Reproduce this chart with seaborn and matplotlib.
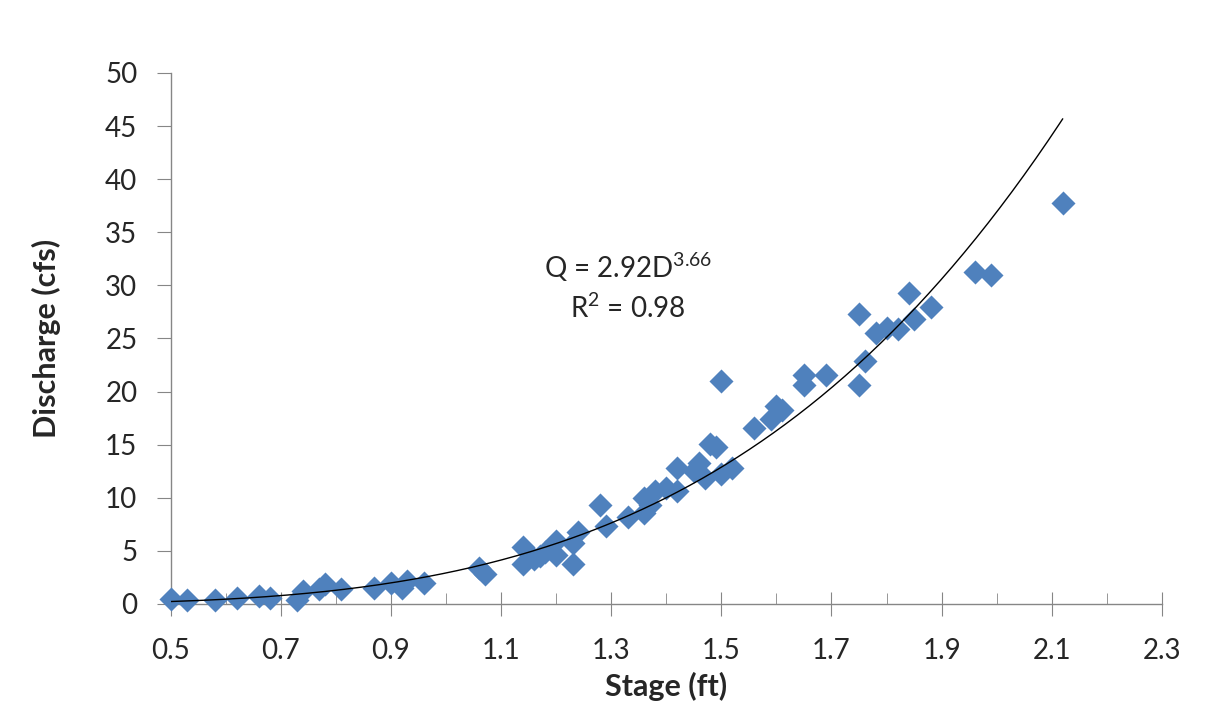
import numpy as np
import pandas as pd
import matplotlib
matplotlib.use('Agg')
import matplotlib.pyplot as plt
import seaborn as sns

stage = [0.50, 0.53, 0.58, 0.62, 0.66, 0.68, 0.73, 0.74, 0.77, 0.78,
         0.81, 0.87, 0.90, 0.92, 0.93, 0.96, 1.06, 1.07, 1.14, 1.14,
         1.16, 1.17, 1.18, 1.20, 1.20, 1.23, 1.23, 1.24, 1.28, 1.29,
         1.33, 1.36, 1.36, 1.37, 1.38, 1.40, 1.42, 1.42, 1.45, 1.46,
         1.47, 1.48, 1.49, 1.50, 1.50, 1.52, 1.56, 1.59, 1.60, 1.61,
         1.65, 1.65, 1.69, 1.75, 1.75, 1.76, 1.78, 1.80, 1.82, 1.84,
         1.85, 1.88, 1.96, 1.99, 2.12]
discharge = [0.5, 0.4, 0.4, 0.6, 0.75, 0.6, 0.4, 1.2, 1.4, 1.9,
             1.4, 1.5, 1.95, 1.5, 2.2, 1.95, 3.4, 2.8, 5.4, 3.8,
             4.2, 4.5, 4.9, 5.9, 4.6, 3.8, 5.7, 6.8, 9.3, 7.3,
             8.2, 8.6, 10.0, 9.3, 10.6, 10.9, 10.6, 12.8, 12.5, 13.3,
             11.9, 15.1, 14.8, 12.2, 21.0, 12.8, 16.6, 17.4, 18.6, 18.3,
             20.6, 21.6, 21.6, 27.3, 20.6, 22.9, 25.5, 26.0, 25.9, 29.3,
             26.8, 28.0, 31.3, 31.0, 37.8]

# axis ticks
x_major = [0.5, 0.7, 0.9, 1.1, 1.3, 1.5, 1.7, 1.9, 2.1, 2.3]
x_minor = [0.6, 0.8, 1.0, 1.2, 1.4, 1.6, 1.8, 2.0, 2.2]
y_major = [0, 5, 10, 15, 20, 25, 30, 35, 40, 45, 50]

# power trendline shown on the chart
coef_a = 2.92
coef_b = 3.66
r_squared = 0.98

df = pd.DataFrame({'Stage': stage, 'Discharge': discharge})

sns.set_style('white')
plt.rcParams['font.family'] = ['Lato', 'DejaVu Sans']
plt.rcParams['mathtext.fontset'] = 'custom'
plt.rcParams['mathtext.rm'] = 'Lato'

fig = plt.figure(figsize=(12.23, 7.05), dpi=100)
ax = fig.add_axes([0.1396, 0.1433, 0.8104, 0.7532])

sns.scatterplot(x='Stage', y='Discharge', data=df, marker='D', s=150,
                color='#4F81BD', linewidth=0, zorder=3, ax=ax)
for c in ax.collections:
    c.set_clip_on(False)

# trendline over the data range
xt = np.linspace(min(stage), max(stage), 300)
trend = pd.DataFrame({'x': xt, 'y': coef_a * xt ** coef_b})
sns.lineplot(x='x', y='y', data=trend, color='black', linewidth=1,
             zorder=4, ax=ax)

ax.text(1.33, 31.7, r'Q = 2.92D$^{3.66}$', fontsize=20, ha='center', va='center')
ax.text(1.33, 27.9, r'R$^{2}$ = ' + f'{r_squared:.2f}', fontsize=20,
        ha='center', va='center')

ax.set_xlim(0.5, 2.3)
ax.set_ylim(0, 50)
ax.set_xticks(x_major)
ax.set_xticklabels([f'{v:.1f}' for v in x_major])
ax.set_xticks(x_minor, minor=True)
ax.set_yticks(y_major)

sns.despine(ax=ax)
for side in ['left', 'bottom']:
    ax.spines[side].set_color('#868686')
    ax.spines[side].set_linewidth(1)
ax.tick_params(axis='x', which='major', direction='inout', length=17,
               color='#868686', labelsize=20, pad=16, bottom=True)
ax.tick_params(axis='x', which='minor', direction='in', length=8,
               color='#868686', bottom=True)
ax.tick_params(axis='y', which='major', direction='out', length=10,
               color='#868686', labelsize=20, pad=14, left=True)

ax.set_xlabel('Stage (ft)', fontsize=22, fontweight='bold', labelpad=6)
ax.set_ylabel('Discharge (cfs)', fontsize=22, fontweight='bold', labelpad=32)

fig.savefig('out.png', dpi=100)
